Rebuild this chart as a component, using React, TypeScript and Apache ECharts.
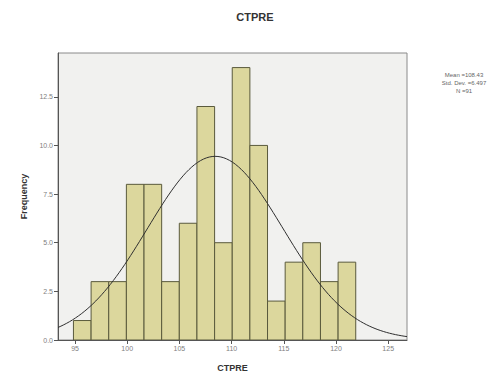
import React, { useEffect, useRef } from "react";
import * as echarts from "echarts";

const title = "CTPRE";
const xName = "CTPRE";
const yName = "Frequency";
const binStart = 94.85;
const binWidth = 1.69;
const counts = [1, 3, 3, 8, 8, 3, 6, 12, 5, 14, 10, 2, 4, 5, 3, 4];
const xTicks = [95, 100, 105, 110, 115, 120, 125];
const yTicks = [0, 2.5, 5, 7.5, 10, 12.5];
const meanVal = 108.43;
const sdVal = 6.5;
const nVal = 91;
const statsLines = ["Mean =108.43", "Std. Dev. =6.497", "N =91"];

const xMin = 93.37;
const xMax = 126.8;
const yMax = 14.75;

export default function App() {
  const ref = useRef<HTMLDivElement>(null);
  useEffect(() => {
    document.body.style.margin = "0";
    const chart = echarts.init(ref.current!, null, { renderer: "svg" });
    const bars = counts.map((c, i) => [binStart + i * binWidth, binStart + (i + 1) * binWidth, c]);
    const curve: number[][] = [];
    const steps = 120;
    for (let i = 0; i <= steps; i++) {
      const x = xMin + ((xMax - xMin) * i) / steps;
      const z = (x - meanVal) / sdVal;
      const y = (nVal * binWidth) / (sdVal * Math.sqrt(2 * Math.PI)) * Math.exp(-0.5 * z * z);
      curve.push([x, y]);
    }
    const font = "Liberation Sans";
    chart.setOption({
      animation: false,
      textStyle: { fontFamily: font },
      title: {
        text: title,
        left: 250,
        top: 6,
        textAlign: "center",
        textStyle: { fontSize: 11, fontWeight: "bold", color: "#333", fontFamily: font },
      },
      grid: {
        left: 58,
        top: 53,
        right: 89,
        bottom: 40,
        show: true,
        backgroundColor: "#f1f1ef",
        borderColor: "#8a8a8a",
        borderWidth: 1,
      },
      xAxis: {
        type: "value",
        min: xMin,
        max: xMax,
        name: xName,
        nameLocation: "middle",
        nameGap: 23,
        nameTextStyle: { fontSize: 9, fontWeight: "bold", color: "#333" },
        axisLine: { show: true, lineStyle: { color: "#555", width: 1 } },
        axisTick: { show: true, length: 4, customValues: xTicks, lineStyle: { color: "#555" } },
        axisLabel: { customValues: xTicks, fontSize: 7, color: "#808080", margin: 5 },
        splitLine: { show: false },
      },
      yAxis: {
        type: "value",
        min: 0,
        max: yMax,
        name: yName,
        nameLocation: "middle",
        nameGap: 22,
        nameTextStyle: { fontSize: 9, fontWeight: "bold", color: "#333" },
        axisLine: { show: true, lineStyle: { color: "#555", width: 1 } },
        axisTick: { show: true, length: 4, customValues: yTicks, lineStyle: { color: "#555" } },
        axisLabel: {
          customValues: yTicks,
          fontSize: 7,
          color: "#808080",
          margin: 5,
          formatter: (v: number) => v.toFixed(1),
        },
        splitLine: { show: false },
      },
      graphic: [
        {
          type: "text",
          x: 464,
          y: 71,
          style: {
            text: statsLines.join("\n"),
            fontSize: 6,
            lineHeight: 8,
            fill: "#666",
            align: "center",
            verticalAlign: "top",
            fontFamily: font,
          },
        },
      ],
      series: [
        {
          type: "custom",
          data: bars,
          clip: true,
          renderItem: (params: any, api: any) => {
            const p0 = api.coord([api.value(0), 0]);
            const p1 = api.coord([api.value(1), api.value(2)]);
            return {
              type: "rect",
              shape: { x: p0[0], y: p1[1], width: p1[0] - p0[0], height: p0[1] - p1[1] },
              style: { fill: "#dcd79d", stroke: "#5a5a3c", lineWidth: 1 },
            };
          },
          encode: { x: [0, 1], y: 2 },
          z: 2,
        },
        {
          type: "line",
          data: curve,
          symbol: "none",
          smooth: false,
          lineStyle: { color: "#2f2f2f", width: 1 },
          z: 3,
        },
      ],
    });
    return () => chart.dispose();
  }, []);
  return <div ref={ref} style={{ width: 496, height: 380 }} />;
}
